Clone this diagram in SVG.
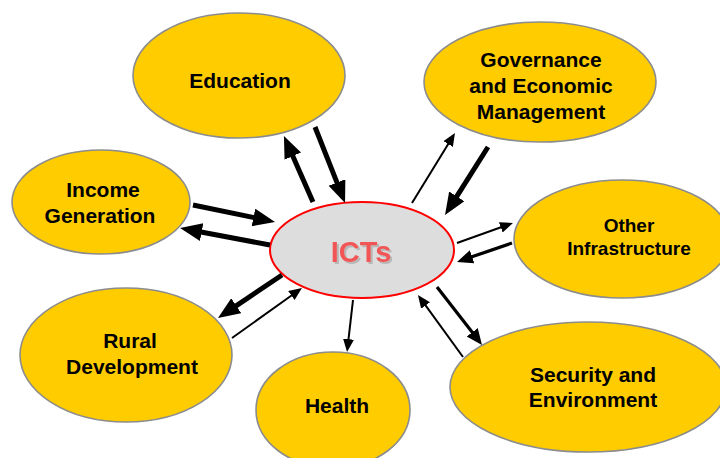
<svg xmlns="http://www.w3.org/2000/svg" width="720" height="458" viewBox="0 0 720 458">
<style>
.node ellipse{fill:#FFCC00;stroke:#8C8C8C;stroke-width:1.6}
.lbl{font-family:"Liberation Sans",Arial,sans-serif;font-weight:bold;font-size:21px;fill:#000;text-anchor:middle}
.conn line{stroke:#000;fill:none}
.thick{stroke-width:5}
.med{stroke-width:3.2}
.thin{stroke-width:2}
</style>
<defs>
<marker id="big" markerUnits="userSpaceOnUse" markerWidth="24" markerHeight="20" refX="2" refY="9" orient="auto"><path d="M0,0 L22,9 L0,18 Z" fill="#000"/></marker>
<marker id="mid" markerUnits="userSpaceOnUse" markerWidth="18" markerHeight="16" refX="1" refY="7" orient="auto"><path d="M0,0 L16,7 L0,14 Z" fill="#000"/></marker>
<marker id="small" markerUnits="userSpaceOnUse" markerWidth="15" markerHeight="12" refX="1" refY="5.5" orient="auto"><path d="M0,0 L13,5.5 L0,11 Z" fill="#000"/></marker>
<filter id="sh" x="-10%" y="-10%" width="130%" height="140%"><feOffset dx="1.5" dy="2" in="SourceAlpha" result="o"/><feFlood flood-color="#B8B8B8"/><feComposite in2="o" operator="in" result="s"/><feMerge><feMergeNode in="s"/><feMergeNode in="SourceGraphic"/></feMerge></filter>
</defs>
<rect width="720" height="458" fill="#fff"/>
<g id="education" class="node"><ellipse cx="239" cy="75.5" rx="106" ry="62.5"/><text class="lbl" x="240" y="88">Education</text></g>
<g id="governance" class="node"><ellipse cx="540" cy="82" rx="116" ry="60"/><text class="lbl" x="541" y="67">Governance</text><text class="lbl" x="541" y="93">and Economic</text><text class="lbl" x="541" y="119">Management</text></g>
<g id="income" class="node"><ellipse cx="101" cy="202" rx="89" ry="52"/><text class="lbl" x="103" y="197">Income</text><text class="lbl" x="100" y="223">Generation</text></g>
<g id="infrastructure" class="node"><ellipse cx="622" cy="239" rx="108" ry="59"/><text class="lbl" x="629" y="232" style="font-size:19px">Other</text><text class="lbl" x="629" y="255" style="font-size:19px">Infrastructure</text></g>
<g id="rural" class="node"><ellipse cx="126" cy="355" rx="106" ry="67"/><text class="lbl" x="130" y="348">Rural</text><text class="lbl" x="132" y="374">Development</text></g>
<g id="health" class="node"><ellipse cx="333" cy="410" rx="77" ry="58"/><text class="lbl" x="337" y="413">Health</text></g>
<g id="security" class="node"><ellipse cx="588" cy="387" rx="138" ry="65"/><text class="lbl" x="593" y="382">Security and</text><text class="lbl" x="593" y="407">Environment</text></g>
<g id="icts"><ellipse cx="362" cy="250" rx="92" ry="48" fill="#DDDDDD" stroke="#FF0000" stroke-width="2"/><text x="361" y="262" filter="url(#sh)" style="font-family:'Liberation Sans',Arial,sans-serif;font-weight:bold;font-size:29px;fill:#F25555;text-anchor:middle">ICTs</text></g>
<g id="connectors" class="conn">
<line class="thick" x1="313" y1="202" x2="292" y2="154.3" marker-end="url(#big)"/>
<line class="thick" x1="315" y1="127" x2="337.7" y2="184.4" marker-end="url(#big)"/>
<line class="thick" x1="193" y1="205" x2="255.4" y2="217.9" marker-end="url(#big)"/>
<line class="thick" x1="270" y1="245" x2="199.7" y2="231.7" marker-end="url(#big)"/>
<line class="thin" x1="412" y1="203" x2="448.7" y2="143.2" marker-end="url(#small)"/>
<line class="thick" x1="488" y1="147" x2="455.7" y2="198.1" marker-end="url(#big)"/>
<line class="thin" x1="457" y1="243" x2="501.7" y2="227" marker-end="url(#small)"/>
<line class="med" x1="512" y1="243" x2="471.2" y2="257.1" marker-end="url(#mid)"/>
<line class="med" x1="437" y1="287" x2="472.8" y2="333.1" marker-end="url(#mid)"/>
<line class="thin" x1="463" y1="357" x2="425" y2="304.7" marker-end="url(#small)"/>
<line class="thick" x1="282" y1="275" x2="234.6" y2="306.8" marker-end="url(#big)"/>
<line class="thin" x1="232" y1="338" x2="292.2" y2="295" marker-end="url(#small)"/>
<line class="thin" x1="353" y1="300" x2="348.4" y2="340.1" marker-end="url(#small)"/>
</g>
</svg>
